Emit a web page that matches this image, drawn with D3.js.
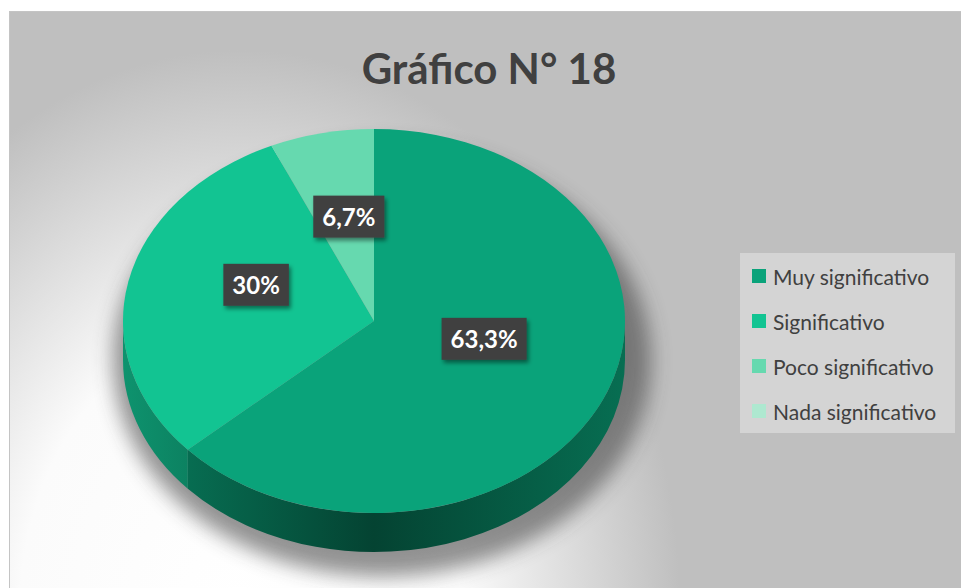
<!DOCTYPE html>
<html>
<head>
<meta charset="utf-8">
<script src="https://cdn.jsdelivr.net/npm/d3@7/dist/d3.min.js"></script>
<style>
  body { margin: 0; background: #ffffff; }
  svg { display: block; }
</style>
</head>
<body>
<svg id="drawing_region"></svg>
<script>
// data
const categories = ["Muy significativo", "Significativo", "Poco significativo", "Nada significativo"];
const values = [63.3, 30, 6.7, 0];
const valueLabels = ["63,3%", "30%", "6,7%", ""];
const colors = ["#0aa37a", "#12c492", "#66d9af", "#aee8d0"];
const title = "Gráfico N° 18";

const config = {
    width: 961,
    height: 588,
    cx: 374, cy: 321,      // centre of the top face
    rx: 251, ry: 192,      // tilted ellipse radii
    depth: 39
};

const svg = d3.select('#drawing_region')
    .attr('width', config.width)
    .attr('height', config.height);

const defs = svg.append('defs');

// background: light spot in the bottom left, grey elsewhere
const bg = defs.append('radialGradient')
    .attr('id', 'bg')
    .attr('gradientUnits', 'userSpaceOnUse')
    .attr('cx', 0).attr('cy', 0).attr('r', 1)
    .attr('gradientTransform', 'translate(240,610) scale(440,560)');
[[0, '#ffffff'], [0.5, '#fbfbfb'], [0.75, '#dddddd'], [1, '#bfbfbf']].forEach(s => {
    bg.append('stop').attr('offset', s[0]).attr('stop-color', s[1]);
});

const blur = defs.append('filter').attr('id', 'pieShadow')
    .attr('x', '-30%').attr('y', '-30%').attr('width', '160%').attr('height', '160%');
blur.append('feGaussianBlur').attr('stdDeviation', 10);

const drop = defs.append('filter').attr('id', 'boxShadow')
    .attr('x', '-30%').attr('y', '-30%').attr('width', '160%').attr('height', '160%');
drop.append('feDropShadow')
    .attr('dx', 2).attr('dy', 3).attr('stdDeviation', 2)
    .attr('flood-color', '#000').attr('flood-opacity', 0.45);

// side gradients, one per slice colour
colors.forEach((c, i) => {
    const g = defs.append('linearGradient')
        .attr('id', 'side' + i)
        .attr('gradientUnits', 'userSpaceOnUse')
        .attr('x1', config.cx - config.rx).attr('x2', config.cx + config.rx)
        .attr('y1', 0).attr('y2', 0);
    g.append('stop').attr('offset', 0).attr('stop-color', d3.color(c).darker(0.8));
    g.append('stop').attr('offset', 0.5).attr('stop-color', d3.color(c).darker(2.5));
    g.append('stop').attr('offset', 1).attr('stop-color', d3.color(c).darker(1.1));
});

svg.append('rect')
    .attr('x', 9.5).attr('y', 11.5)
    .attr('width', 960).attr('height', 600)
    .attr('fill', 'url(#bg)')
    .attr('stroke', '#c4c4c4');

svg.append('text')
    .attr('x', 489).attr('y', 68)
    .attr('text-anchor', 'middle')
    .attr('dominant-baseline', 'central')
    .attr('font-family', 'Lato, "Open Sans", sans-serif')
    .attr('font-weight', 'bold')
    .attr('font-size', 42)
    .attr('fill', '#404040')
    .text(title);

// pie
const pie = d3.pie().sort(null).value(d => d);
const arcs = pie(values);

const pt = (a, dy) => [config.cx + config.rx * Math.sin(a), config.cy - config.ry * Math.cos(a) + (dy || 0)];

const chart = svg.append('g');

chart.append('ellipse')
    .attr('cx', config.cx + 8)
    .attr('cy', config.cy + config.depth / 2 + 20)
    .attr('rx', config.rx + 18)
    .attr('ry', config.ry + 24)
    .attr('fill', '#3a3a3a')
    .attr('opacity', 0.55)
    .attr('filter', 'url(#pieShadow)');

// front walls
arcs.forEach((d, i) => {
    const s = Math.max(d.startAngle, Math.PI / 2);
    const e = Math.min(d.endAngle, 3 * Math.PI / 2);
    if (s >= e) return;
    const p0 = pt(s), p1 = pt(e), p2 = pt(e, config.depth), p3 = pt(s, config.depth);
    chart.append('path')
        .attr('d', `M${p0}A${config.rx},${config.ry} 0 0 1 ${p1}L${p2}A${config.rx},${config.ry} 0 0 0 ${p3}Z`)
        .attr('fill', `url(#side${i})`);
});

// top faces
chart.selectAll('.top')
    .data(arcs.filter(d => d.endAngle > d.startAngle))
    .enter()
    .append('path')
    .attr('class', 'top')
    .attr('d', d => {
        const p0 = pt(d.startAngle), p1 = pt(d.endAngle);
        const large = d.endAngle - d.startAngle > Math.PI ? 1 : 0;
        return `M${config.cx},${config.cy}L${p0}A${config.rx},${config.ry} 0 ${large} 1 ${p1}Z`;
    })
    .attr('fill', d => colors[d.index]);

// data labels
const lab = chart.selectAll('.lab')
    .data(arcs.filter(d => d.value > 0))
    .enter()
    .append('g')
    .attr('class', 'lab')
    .attr('transform', d => {
        const a = (d.startAngle + d.endAngle) / 2;
        const x = config.cx + 0.48 * config.rx * Math.sin(a);
        const y = config.cy - 0.46 * config.ry * Math.cos(a) - 18;
        return `translate(${x},${y})`;
    });

lab.append('rect').attr('fill', '#404040').attr('filter', 'url(#boxShadow)');
lab.append('text')
    .attr('text-anchor', 'middle')
    .attr('dominant-baseline', 'central')
    .attr('font-family', 'Lato, "Open Sans", sans-serif')
    .attr('font-weight', 'bold')
    .attr('font-size', 24)
    .attr('fill', '#ffffff')
    .text(d => valueLabels[d.index]);

lab.each(function () {
    const g = d3.select(this);
    const w = g.select('text').node().getBBox().width;
    g.select('rect')
        .attr('x', -w / 2 - 9).attr('y', -21)
        .attr('width', w + 18).attr('height', 42);
});

// legend
const ly = d3.scalePoint().domain(categories).range([276, 411]);

svg.append('rect')
    .attr('x', 740).attr('y', 253)
    .attr('width', 215).attr('height', 180)
    .attr('fill', '#d4d4d4');

const leg = svg.selectAll('.leg')
    .data(categories)
    .enter()
    .append('g')
    .attr('class', 'leg')
    .attr('transform', d => `translate(752,${ly(d)})`);

leg.append('rect')
    .attr('x', 0).attr('y', -7)
    .attr('width', 14).attr('height', 14)
    .attr('fill', (d, i) => colors[i]);

leg.append('text')
    .attr('x', 21)
    .attr('dominant-baseline', 'central')
    .attr('font-family', 'Lato, "Open Sans", sans-serif')
    .attr('font-size', 21)
    .attr('fill', '#404040')
    .text(d => d);
</script>
</body>
</html>
